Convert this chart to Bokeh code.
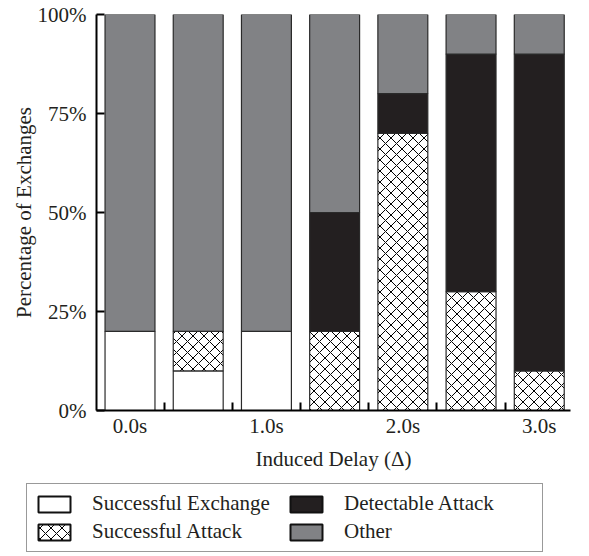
from bokeh.plotting import figure
from bokeh.models import ColumnDataSource, FixedTicker, Legend, LegendItem, Range1d
from bokeh.embed import file_html
from bokeh.resources import INLINE
import numpy as np

# ---- data ----
delays = [0.0, 0.5, 1.0, 1.5, 2.0, 2.5, 3.0]
successful_exchange = [20, 10, 20, 0, 0, 0, 0]
successful_attack = [0, 10, 0, 20, 70, 30, 10]
detectable_attack = [0, 0, 0, 30, 10, 60, 80]
other = [80, 80, 80, 50, 20, 10, 10]

series_names = ["Successful Exchange", "Successful Attack", "Detectable Attack", "Other"]
x_tick_values = [0, 1, 2, 3]
x_tick_labels = ["0.0s", "1.0s", "2.0s", "3.0s"]
x_minor_ticks = [0.25, 0.75, 1.25, 1.75, 2.25, 2.75]
y_tick_values = [0, 25, 50, 75, 100]
y_tick_labels = ["0%", "25%", "50%", "75%", "100%"]

FONT = "Liberation Serif"
TEXT = "#231f20"

p = figure(width=573, height=480, output_backend="svg", toolbar_location=None,
           x_range=Range1d(-0.2456, 3.229), y_range=Range1d(0, 100),
           min_border_left=96, min_border_right=3, min_border_top=14, min_border_bottom=70)
p.outline_line_color = None
p.grid.grid_line_color = None

stack = np.array([successful_exchange, successful_attack, detectable_attack, other], dtype=float)
tops = np.cumsum(stack, axis=0)
bottoms = tops - stack

styles = [
    dict(fill_color="white"),
    dict(fill_color="white", hatch_pattern="x", hatch_color="black", hatch_scale=11, hatch_weight=1),
    dict(fill_color="#231f20"),
    dict(fill_color="#818285"),
]

sources = []
for i, name in enumerate(series_names):
    src = ColumnDataSource(dict(x=delays, top=tops[i], bottom=bottoms[i]))
    sources.append(src)
    p.vbar(x="x", top="top", bottom="bottom", width=0.366, source=src,
           line_color="#2a2a2a", line_width=1.2, **styles[i])

# axes
xa = p.xaxis[0]
xa.ticker = FixedTicker(ticks=x_tick_values, minor_ticks=x_minor_ticks)
xa.major_label_overrides = {v: l for v, l in zip(x_tick_values, x_tick_labels)}
xa.major_tick_in = 0
xa.major_tick_out = 0
xa.minor_tick_in = 8
xa.minor_tick_out = 0
xa.minor_tick_line_width = 2
xa.minor_tick_line_color = "black"
xa.axis_label = "Induced Delay (Δ)"

ya = p.yaxis[0]
ya.ticker = FixedTicker(ticks=y_tick_values)
ya.major_label_overrides = {v: l for v, l in zip(y_tick_values, y_tick_labels)}
ya.major_tick_in = 8
ya.major_tick_out = 0
ya.major_tick_line_width = 2
ya.minor_tick_line_color = None
ya.axis_label = "Percentage of Exchanges"

for ax in (xa, ya):
    ax.axis_line_width = 2
    ax.axis_line_color = "black"
    ax.major_tick_line_color = "black"
    ax.major_label_text_font = FONT
    ax.major_label_text_font_size = "21px"
    ax.major_label_text_color = TEXT
    ax.axis_label_text_font = FONT
    ax.axis_label_text_font_size = "21px"
    ax.axis_label_text_font_style = "normal"
    ax.axis_label_text_color = TEXT
xa.major_label_standoff = 3
xa.axis_label_standoff = 6
ya.major_label_standoff = 10
ya.axis_label_standoff = -1

# ---- legend strip (separate root below the chart) ----
# its copies of the bars sit entirely behind the opaque legend box
p2 = figure(width=573, height=76, output_backend="svg", toolbar_location=None,
            x_range=Range1d(-0.5, 3.5), y_range=Range1d(-20, 105),
            min_border_left=26, min_border_right=0, min_border_top=3, min_border_bottom=0,
            x_axis_location=None, y_axis_location=None)
p2.outline_line_color = None
p2.grid.grid_line_color = None

legend_renderers = []
for i, name in enumerate(series_names):
    r = p2.vbar(x="x", top="top", bottom="bottom", width=0.366, source=sources[i],
                line_color="#111111", line_width=2, **styles[i])
    legend_renderers.append(r)

legend = Legend(items=[LegendItem(label=n, renderers=[r]) for n, r in zip(series_names, legend_renderers)],
                ncols=2, location="top_left",
                label_text_font=FONT, label_text_font_size="21px", label_text_color=TEXT,
                glyph_width=40, glyph_height=20, label_standoff=18, spacing=3,
                padding=7, margin=0, label_width=191, label_height=20,
                border_line_color="#333333", border_line_width=1.5,
                background_fill_color="white", background_fill_alpha=1)
p2.add_layout(legend)

open("out.html", "w").write(file_html([p, p2], INLINE))
